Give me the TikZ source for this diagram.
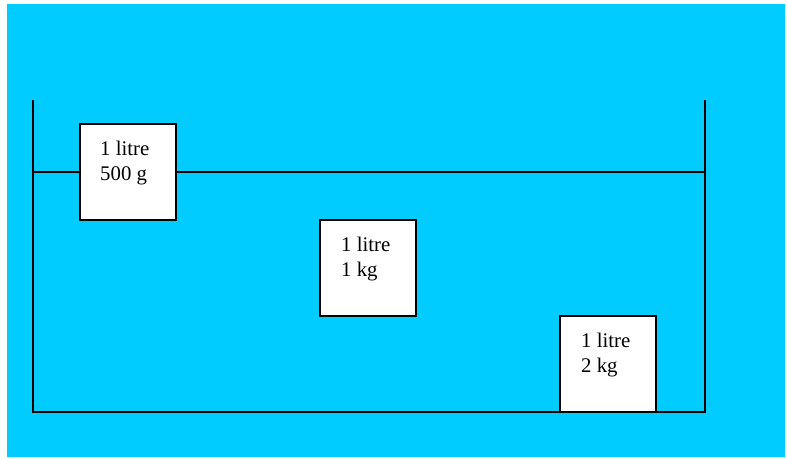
\documentclass[tikz,border=0pt]{standalone}
\usepackage{fontspec}
\setmainfont{Liberation Serif}
\definecolor{water}{HTML}{00CCFF}
\begin{document}
\begin{tikzpicture}[x=1pt,y=-1pt,
  wall/.style={draw=black,line width=2pt},
  block/.style={draw=black,fill=white,line width=2pt},
  lbl/.style={anchor=base west,inner sep=0pt,font=\fontsize{20.8}{24}\selectfont,align=left}]
\useasboundingbox (0,0) rectangle (787,458);
\fill[white] (0,0) rectangle (787,458);
\fill[water] (7,4) rectangle (785,457);
% water surface
\draw[wall] (33,172) -- (705,172);
% tank
\draw[wall] (33,100) -- (33,412) -- (705,412) -- (705,100);
% blocks
\draw[block] (80,124) rectangle (176,220);
\node[lbl] (a1) at (100,155) {1 litre};
\node[lbl] (a2) at (100,180) {500 g};
\draw[block] (320,220) rectangle (416,316);
\node[lbl] (b1) at (341,251) {1 litre};
\node[lbl] (b2) at (341,276) {1 kg};
\draw[block] (560,316) rectangle (656,412);
\node[lbl] (c1) at (581,347) {1 litre};
\node[lbl] (c2) at (581,372) {2 kg};
\end{tikzpicture}
\end{document}
